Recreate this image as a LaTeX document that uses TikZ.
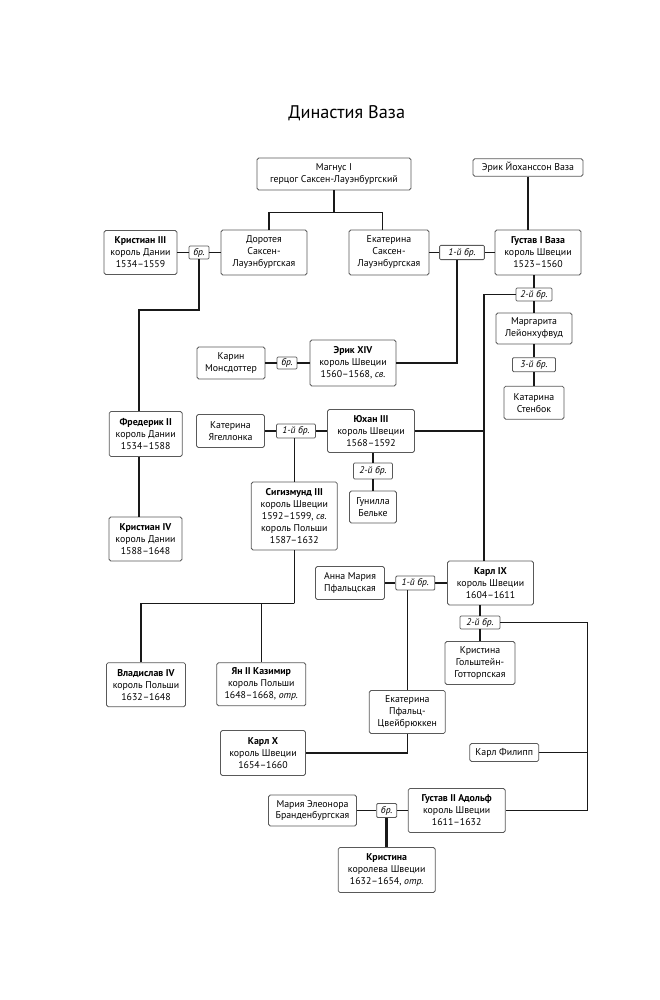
\documentclass[tikz,border=0pt]{standalone}
\usepackage{fontspec}
\setmainfont{PT Sans}
\usetikzlibrary{positioning}

\tikzset{
  pers/.style 2 args={draw=black!65, line width=0.6pt, rounded corners=1.2pt, align=center, inner sep=1pt,
    font=\fontsize{7}{8.5}\selectfont, minimum width=#1*0.025cm, minimum height=#2*0.025cm},
  brak/.style 2 args={draw=black!65, line width=0.6pt, rounded corners=0.8pt, inner sep=1pt,
    font=\fontsize{6.8}{8}\selectfont\itshape, minimum width=#1*0.025cm, minimum height=#2*0.025cm},
  link/.style={line width=1.05pt, black!90},
}

\begin{document}
\begin{tikzpicture}[x=0.025cm, y=-0.025cm]
\useasboundingbox (0,0) rectangle (659,1000);

\node[font=\fontsize{13}{15}\selectfont] (title) at (346.7,113) {Династия Ваза};

% first generation
\node[pers={154}{32}] (magnus) at (334,174) {Магнус I\\герцог Саксен-Лауэнбургский};
\node[pers={110}{17.5}] (ericj) at (528,167.5) {Эрик Йоханссон Ваза};

\node[pers={73}{44}] (chr3) at (140.5,252.5) {\textbf{Кристиан III}\\король Дании\\1534--1559};
\node[brak={20}{13}] (br1) at (199,252.5) {бр.};
\node[pers={86}{45}] (dor) at (264,252.5) {Доротея\\Саксен-\\Лауэнбургская};
\node[pers={80}{45}] (ekat) at (389,252.5) {Екатерина\\Саксен-\\Лауэнбургская};
\node[brak={44.7}{14.3}] (m1) at (462,252.5) {1-й бр.};
\node[pers={86}{45}] (gus1) at (538,252.5) {\textbf{Густав I Ваза}\\король Швеции\\1523--1560};

\node[brak={36}{13}] (m2) at (534,294.5) {2-й бр.};
\node[pers={76}{31}] (marg) at (534,328.5) {Маргарита\\Лейонхуфвуд};
\node[brak={43}{14}] (m3) at (534,364.7) {3-й бр.};
\node[pers={60}{33}] (sten) at (534,402.7) {Катарина\\Стенбок};

% second generation
\node[pers={68}{32}] (karin) at (231,363) {Карин\\Монсдоттер};
\node[brak={20}{12}] (m4) at (287,363) {бр.};
\node[pers={86}{46}] (eric14) at (353,363) {\textbf{Эрик XIV}\\король Швеции\\1560--1568, \textit{св.}};

\node[pers={73}{45}] (fred) at (145.7,434) {\textbf{Фредерик II}\\король Дании\\1534--1588};
\node[pers={68}{33}] (kat) at (230.5,431) {Катерина\\Ягеллонка};
\node[brak={39}{14}] (m5) at (296,431) {1-й бр.};
\node[pers={87}{43}] (johan) at (371,431) {\textbf{Юхан III}\\король Швеции\\1568--1592};
\node[brak={39}{16}] (m6) at (373,471) {2-й бр.};
\node[pers={47}{32}] (gun) at (373,507) {Гунилла\\Бельке};

\node[pers={86}{68}] (sig) at (294.3,516) {\textbf{Сигизмунд III}\\король Швеции\\1592--1599, \textit{св.}\\король Польши\\1587--1632};
\node[pers={73}{44}] (chr4) at (145.5,539) {\textbf{Кристиан IV}\\король Дании\\1588--1648};

\node[pers={69}{33}] (anna) at (350,583) {Анна Мария\\Пфальцская};
\node[brak={39}{14}] (m7) at (415.3,583) {1-й бр.};
\node[pers={86}{44}] (karl9) at (490.5,583) {\textbf{Карл IX}\\король Швеции\\1604--1611};
\node[brak={40}{13}] (m8) at (480,622.5) {2-й бр.};
\node[pers={70}{43}] (krg) at (480,663) {Кристина\\Гольштейн-\\Готторпская};

% third generation
\node[pers={79}{44}] (wlad) at (146,684.7) {\textbf{Владислав IV}\\король Польши\\1632--1648};
\node[pers={89}{43}] (jan) at (261.3,684.3) {\textbf{Ян II Казимир}\\король Польши\\1648--1668, \textit{отр.}};
\node[pers={76}{43}] (ekpf) at (407.3,712) {Екатерина\\Пфальц-\\Цвейбрюккен};
\node[pers={85}{45}] (karl10) at (263,753) {\textbf{Карл X}\\король Швеции\\1654--1660};
\node[pers={69}{18}] (karlph) at (504.3,752.5) {Карл Филипп};

\node[pers={88}{31}] (maria) at (312.5,810.5) {Мария Элеонора\\Бранденбургская};
\node[brak={20}{14}] (m9) at (386.7,810.5) {бр.};
\node[pers={97}{44}] (gus2) at (456.7,810.5) {\textbf{Густав II Адольф}\\король Швеции\\1611--1632};
\node[pers={97}{45}] (kristina) at (386.7,870) {\textbf{Кристина}\\королева Швеции\\1632--1654, \textit{отр.}};

% connectors
\coordinate (mj) at (334.7,212.7);
\draw[link] (magnus.south) -- (magnus.south |- mj);
\draw[link] ([xshift=0.125cm]dor.north) |- (mj) -| ([xshift=-0.16cm]ekat.north);
\draw[link] (ericj.south) -- (ericj.south |- gus1.north);

\draw[link] (chr3) -- (br1) -- (dor);
\draw[link] (ekat) -- (m1) -- (gus1);

\coordinate (fj) at (139,310);
\draw[link] (br1.south) |- (fj) -- (fj |- fred.north);
\draw[link] (fj |- fred.south) -- (fj |- chr4.north);

\draw[link] ([xshift=-0.13cm]m1.south) |- (eric14.east);

\draw[link] (m2.north |- gus1.south) -- (m2.north);
\draw[link] (m2) -- (marg) -- (m3) -- (sten);

\coordinate (gv) at (484,294.5);
\draw[link] (m2.west) -- (gv) -- (gv |- karl9.north);
\draw[link] (johan.east) -- (johan.east -| gv);

\draw[link] (karin) -- (m4) -- (eric14);
\draw[link] (kat) -- (m5) -- (johan);
\draw[link] (sig.north |- m5.south) -- (sig.north);
\draw[link] (m6.north |- johan.south) -- (m6.north);
\draw[link] (m6) -- (gun);

\coordinate (sj) at (292.7,603.3);
\draw[link] (sig.south) -- (sig.south |- sj);
\draw[link] ([xshift=-0.125cm]wlad.north) |- (sig.south |- sj) -| (jan.north);

\draw[link] (anna) -- (m7) -- (karl9);
\draw[link] (ekpf.north |- m7.south) -- (ekpf.north);
\draw[link] (ekpf.south) |- (karl10.east);

\draw[link] (m8.north |- karl9.south) -- (m8.north);
\draw[link] (m8) -- (krg);

\coordinate (rv) at (587.3,622.5);
\draw[link] (m8.east) -- (rv) |- (gus2.east);
\draw[link] (karlph.east) -- (karlph.east -| rv);

\draw[link] (maria) -- (m9) -- (gus2);
\draw[link, line width=2.2pt] (m9) -- (kristina);

\end{tikzpicture}
\end{document}
